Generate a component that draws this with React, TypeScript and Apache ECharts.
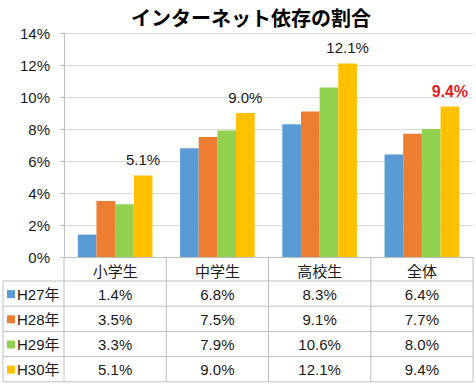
import React, { useEffect, useRef } from "react";
import * as echarts from "echarts";

const titleText = "インターネット依存の割合";
const categories = ["小学生", "中学生", "高校生", "全体"];
const seriesNames = ["H27年", "H28年", "H29年", "H30年"];
const h27 = [1.4, 6.8, 8.3, 6.4];
const h28 = [3.5, 7.5, 9.1, 7.7];
const h29 = [3.3, 7.9, 10.6, 8.0];
const h30 = [5.1, 9.0, 12.1, 9.4];
const seriesValues = [h27, h28, h29, h30];
const colors = ["#5B9BD5", "#ED7D31", "#92D050", "#FFC000"];
const yMin = 0;
const yMax = 14;
const yInterval = 2;

const FONT = "'Liberation Sans', Arial, 'Noto Sans CJK JP', sans-serif";
const JP = "'Noto Sans CJK JP', sans-serif";

export default function App() {
  const ref = useRef<HTMLDivElement>(null);
  useEffect(() => {
    if (!ref.current) return;
    const chart = echarts.init(ref.current, undefined, { renderer: "svg" });
    const W = 476;
    const L = 64;
    const R = 473;
    const plotTop = 33;
    const plotBottom = 257;
    const tableLeft = 3;
    const rowH = 25.2;
    const headerBottom = 281;
    const tableBottom = headerBottom + rowH * 4;
    const catW = (R - L) / categories.length;
    const lineColor = "#BFBFBF";
    const textColor = "#1A1A1A";

    const graphic: any[] = [];
    for (let i = 0; i <= categories.length; i++) {
      graphic.push({
        type: "line",
        shape: { x1: L + i * catW, y1: plotBottom, x2: L + i * catW, y2: tableBottom },
        style: { stroke: lineColor, lineWidth: 1 },
        silent: true,
      });
    }
    graphic.push({
      type: "line",
      shape: { x1: tableLeft, y1: headerBottom, x2: tableLeft, y2: tableBottom },
      style: { stroke: lineColor, lineWidth: 1 },
    });
    for (let r = 0; r <= seriesNames.length; r++) {
      const y = headerBottom + r * rowH;
      graphic.push({
        type: "line",
        shape: { x1: tableLeft, y1: y, x2: R, y2: y },
        style: { stroke: lineColor, lineWidth: 1 },
      });
    }
    categories.forEach((c, i) => {
      graphic.push({
        type: "text",
        x: L + (i + 0.5) * catW,
        y: (plotBottom + headerBottom) / 2 + 1,
        style: { text: c, font: `15px ${JP}`, fill: textColor, align: "center", verticalAlign: "middle" },
      });
    });
    seriesNames.forEach((name, r) => {
      const cy = headerBottom + (r + 0.5) * rowH + 0.5;
      graphic.push({
        type: "rect",
        shape: { x: 7, y: cy - 4, width: 8, height: 8 },
        style: { fill: colors[r] },
      });
      graphic.push({
        type: "text",
        x: 17,
        y: cy,
        style: { text: name, font: `15px ${FONT}`, fill: textColor, align: "left", verticalAlign: "middle" },
      });
      seriesValues[r].forEach((v, i) => {
        graphic.push({
          type: "text",
          x: L + (i + 0.5) * catW,
          y: cy,
          style: { text: v.toFixed(1) + "%", font: `15px ${FONT}`, fill: textColor, align: "center", verticalAlign: "middle" },
        });
      });
    });
    graphic.push({
      type: "text",
      x: 251,
      y: 17,
      style: { text: titleText, font: `bold 20px ${JP}`, fill: "#000", align: "center", verticalAlign: "middle" },
    });

    const lastIdx = seriesNames.length - 1;
    chart.setOption({
      animation: false,
      grid: { left: L, right: W - R, top: plotTop, bottom: 386 - plotBottom, containLabel: false },
      xAxis: {
        type: "category",
        data: categories,
        axisLabel: { show: false },
        axisTick: { show: false },
        axisLine: { lineStyle: { color: lineColor } },
      },
      yAxis: {
        type: "value",
        min: yMin,
        max: yMax,
        interval: yInterval,
        axisLabel: { formatter: "{value}%", fontSize: 15, fontFamily: FONT, color: textColor, margin: 14 },
        axisLine: { show: true, lineStyle: { color: lineColor } },
        axisTick: { show: true, length: 4, lineStyle: { color: lineColor } },
        splitLine: { lineStyle: { color: "#D9D9D9" } },
      },
      series: seriesValues.map((vals, s) => ({
        type: "bar",
        name: seriesNames[s],
        barGap: "0%",
        barCategoryGap: "27%",
        itemStyle: { color: colors[s] },
        label: {
          show: s === lastIdx,
          position: "top",
          distance: 8,
          fontSize: 15,
          fontFamily: FONT,
          color: textColor,
          formatter: (p: any) => Number(p.value).toFixed(1) + "%",
        },
        data: vals.map((v, i) =>
          s === lastIdx && i === categories.length - 1
            ? { value: v, label: { color: "#E02020", fontWeight: "bold", fontSize: 16, distance: 7 } }
            : v
        ),
      })),
      graphic,
    });
    return () => chart.dispose();
  }, []);
  return <div ref={ref} style={{ width: 476, height: 386, position: "absolute", left: 0, top: 0, background: "#fff" }} />;
}
